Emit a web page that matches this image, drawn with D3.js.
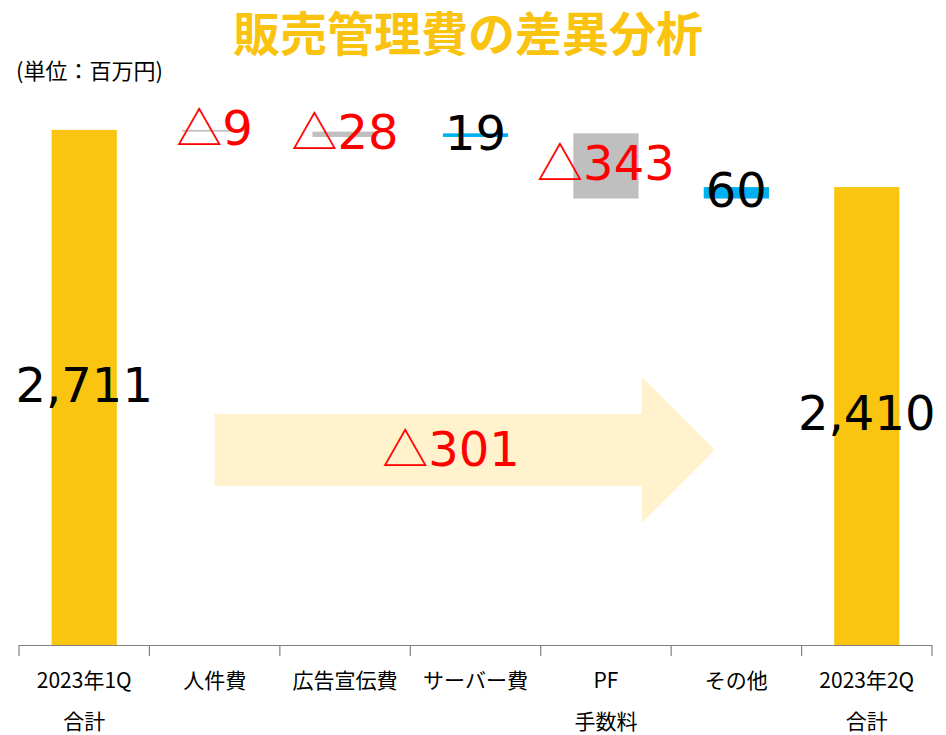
<!DOCTYPE html>
<html lang="ja">
<head>
<meta charset="UTF-8">
<title>販売管理費の差異分析</title>
<script src="https://d3js.org/d3.v7.min.js"></script>
<style>
  body { margin: 0; background: #fff; }
  .axis-label { font-family: "Noto Sans CJK JP", sans-serif; font-size: 21px; fill: #000; }
  .value { font-family: "DejaVu Sans", Verdana, sans-serif; font-size: 48px; }
  .tri { font-family: "Noto Sans CJK JP", sans-serif; font-size: 46px; }
</style>
</head>
<body>
<svg width="946" height="735"></svg>
<script>
// data
const categories = ["2023年1Q\n合計", "人件費", "広告宣伝費", "サーバー費", "PF\n手数料", "その他", "2023年2Q\n合計"];
const values = [2711, -9, -28, 19, -343, 60, 2410];
const isTotal = [true, false, false, false, false, false, true];
const totalChange = -301;
const unitLabel = "(単位：百万円)";
const title = "販売管理費の差異分析";

const svg = d3.select("svg");

// waterfall steps
let running = 0;
const steps = categories.map((c, i) => {
  let start, end;
  if (isTotal[i]) { start = 0; end = values[i]; running = values[i]; }
  else { start = running; end = running + values[i]; running = end; }
  return { cat: c, value: values[i], start, end, total: isTotal[i] };
});

const x = d3.scaleBand().domain(categories).range([19, 932]).paddingInner(0.5).paddingOuter(0.25);
const y = d3.scaleLinear().domain([0, 3000]).range([645, 75]);
const cx = c => x(c) + x.bandwidth() / 2;

const colorOf = d => d.total ? "#F9C511" : (d.value > 0 ? "#00B0F0" : "#BFBFBF");

// △ prefix drawn as its own tspan
function labelText(sel, neg, num) {
  if (neg) sel.append("tspan").attr("class", "tri").text("△");
  sel.append("tspan").text(num);
}

// title
svg.append("text")
  .attr("x", 468).attr("y", 51)
  .attr("text-anchor", "middle")
  .style("font-family", "'Noto Sans CJK JP', sans-serif")
  .style("font-weight", "bold")
  .style("font-size", "47px")
  .attr("fill", "#F9C30F")
  .text(title);

svg.append("text")
  .attr("x", 16).attr("y", 79)
  .style("font-family", "'Noto Sans CJK JP', sans-serif")
  .style("font-size", "22px")
  .text(unitLabel);

// arrow for total change (drawn behind)
const ax0 = cx(categories[1]);
const axHead = x(categories[5]) - 62;
const axTip = x(categories[5]) + 11;
const ayMid = 450, bodyH = 36, headH = 73;
svg.append("path")
  .attr("d", `M${ax0},${ayMid - bodyH} L${axHead},${ayMid - bodyH} L${axHead},${ayMid - headH} L${axTip},${ayMid} L${axHead},${ayMid + headH} L${axHead},${ayMid + bodyH} L${ax0},${ayMid + bodyH} Z`)
  .attr("fill", "#FFF2CC");

svg.append("text")
  .attr("class", "value")
  .attr("x", 451).attr("y", ayMid)
  .attr("dy", "0.34em")
  .attr("text-anchor", "middle")
  .attr("fill", "#FF0000")
  .call(labelText, totalChange < 0, Math.abs(totalChange));

// bars
svg.append("g")
  .selectAll("rect")
  .data(steps)
  .join("rect")
  .attr("x", d => x(d.cat))
  .attr("width", x.bandwidth())
  .attr("y", d => y(Math.max(d.start, d.end)))
  .attr("height", d => Math.max(1, Math.abs(y(d.start) - y(d.end))))
  .attr("fill", colorOf);

// axis
const axis = svg.append("g").attr("stroke", "#808080").attr("stroke-width", 1.2);
axis.append("line").attr("x1", 19).attr("x2", 932).attr("y1", 645.5).attr("y2", 645.5);
const bounds = d3.range(categories.length + 1).map(i => 19 + i * x.step());
axis.selectAll("line.tick")
  .data(bounds)
  .join("line")
  .attr("class", "tick")
  .attr("x1", d => d).attr("x2", d => d)
  .attr("y1", 645).attr("y2", 656);

svg.append("g").selectAll("text")
  .data(categories)
  .join("text")
  .attr("class", "axis-label")
  .attr("text-anchor", "middle")
  .each(function(d) {
    d.split("\n").forEach((t, i) => {
      d3.select(this).append("tspan")
        .attr("x", cx(d))
        .attr("y", 688 + i * 41)
        .text(t);
    });
  });

// value labels
svg.append("g")
  .selectAll("text")
  .data(steps)
  .join("text")
  .attr("class", "value")
  .attr("text-anchor", "middle")
  .attr("x", d => cx(d.cat))
  .attr("y", d => (y(d.start) + y(d.end)) / 2)
  .attr("dy", "0.3em")
  .attr("fill", d => (!d.total && d.value < 0) ? "#FF0000" : "#000")
  .each(function(d) {
    const s = d3.select(this);
    if (d.total) s.text(d3.format(",")(d.value));
    else labelText(s, d.value < 0, Math.abs(d.value));
  });
</script>
</body>
</html>
